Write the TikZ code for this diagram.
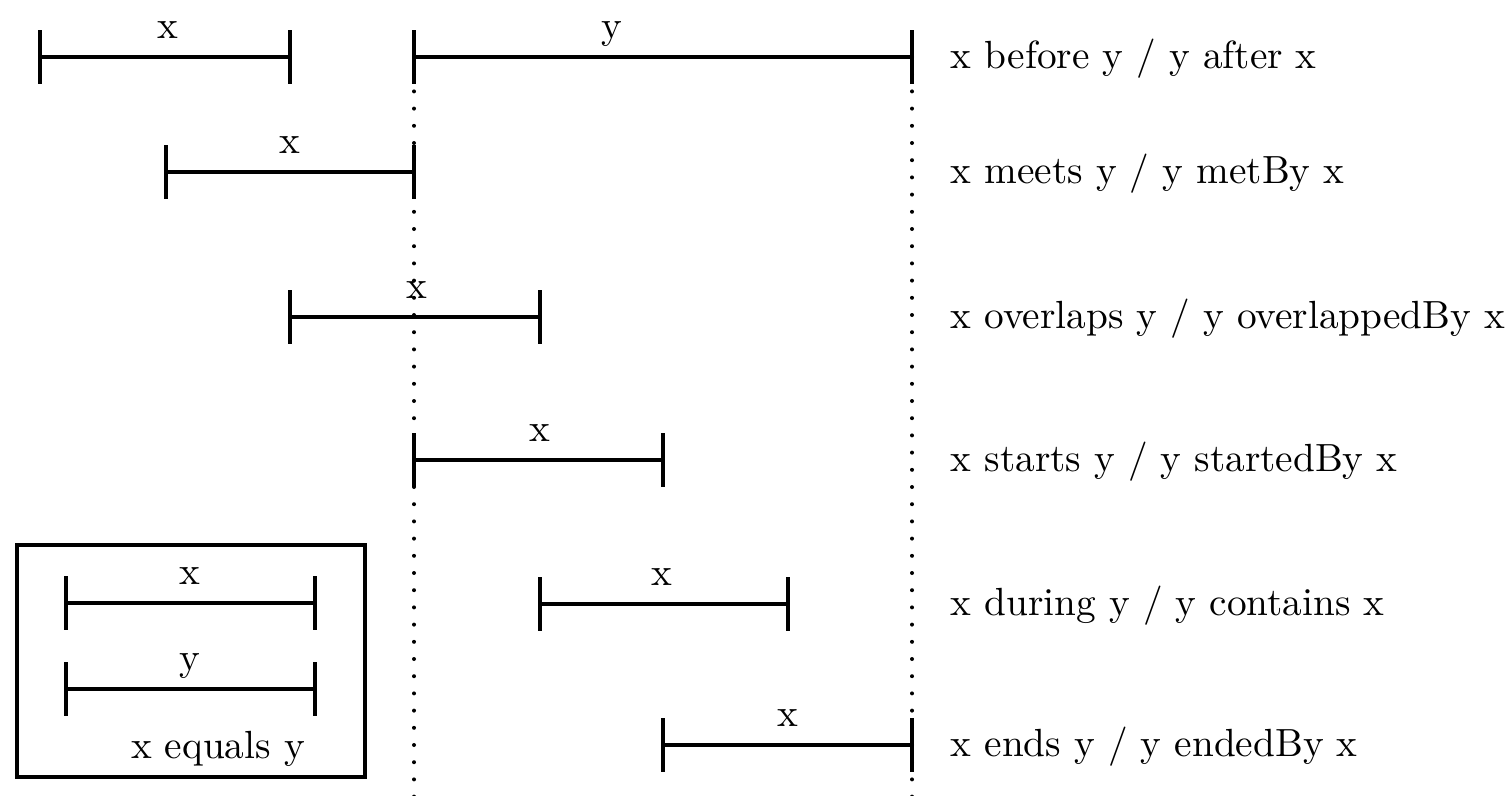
\documentclass[tikz,border=0pt]{standalone}
\tikzset{
  seg/.style={line width=3.6pt},
  tick/.style={line width=3.6pt},
  guide/.style={line width=4pt, line cap=round, dash pattern=on 0pt off 17.2pt},
  lbl/.style={inner sep=0pt, anchor=base, font=\fontsize{10}{12}\selectfont, scale=3.93, transform shape},
  rel/.style={inner sep=0pt, anchor=base west, font=\fontsize{10}{12}\selectfont, scale=3.93, transform shape},
  frame/.style={line width=4pt}
}
\newcommand{\myivl}[6]{% name, x1, x2, y, label, labelx
  \coordinate (#1a) at (#2,#4);
  \coordinate (#1b) at (#3,#4);
  \draw[seg] (#1a) -- (#1b);
  \draw[tick] ([yshift=27pt]#1a) -- ([yshift=-27pt]#1a);
  \draw[tick] ([yshift=27pt]#1b) -- ([yshift=-27pt]#1b);
  \node[lbl] (#1l) at (#6,#4-19) {#5};
}
\begin{document}
\begin{tikzpicture}[x=1pt,y=-1pt]
\useasboundingbox (0,0) rectangle (1511,795);
% guide lines
\coordinate (g1t) at (414,57);
\coordinate (g1b) at (414,797);
\coordinate (g2t) at (912,57);
\coordinate (g2b) at (912,797);
\draw[guide] (g1t) -- (g1b);
\draw[guide] (g2t) -- (g2b);
% rows
\myivl{ax}{40}{290}{57}{x}{168}
\myivl{ay}{414}{912}{57}{y}{612}
\myivl{b}{166}{414}{172}{x}{290}
\myivl{c}{290}{540}{317}{x}{417}
\myivl{d}{414}{663}{460}{x}{540}
\myivl{e}{540}{788}{604}{x}{662}
\myivl{f}{663}{912}{745}{x}{788}
% relation labels
\node[rel] (r1) at (950,68) {x before y / y after x};
\node[rel] (r2) at (950,183) {x meets y / y metBy x};
\node[rel] (r3) at (950,328) {x overlaps y / y overlappedBy x};
\node[rel] (r4) at (950,471) {x starts y / y startedBy x};
\node[rel] (r5) at (950,615) {x during y / y contains x};
\node[rel] (r6) at (950,756) {x ends y / y endedBy x};
% equals box
\coordinate (bx1) at (17,545);
\coordinate (bx2) at (365,777);
\draw[frame] (bx1) rectangle (bx2);
\myivl{gx}{66}{315}{603}{x}{190}
\myivl{gy}{66}{315}{689}{y}{190}
\node[lbl] (geq) at (218,758) {x equals y};
\end{tikzpicture}
\end{document}
